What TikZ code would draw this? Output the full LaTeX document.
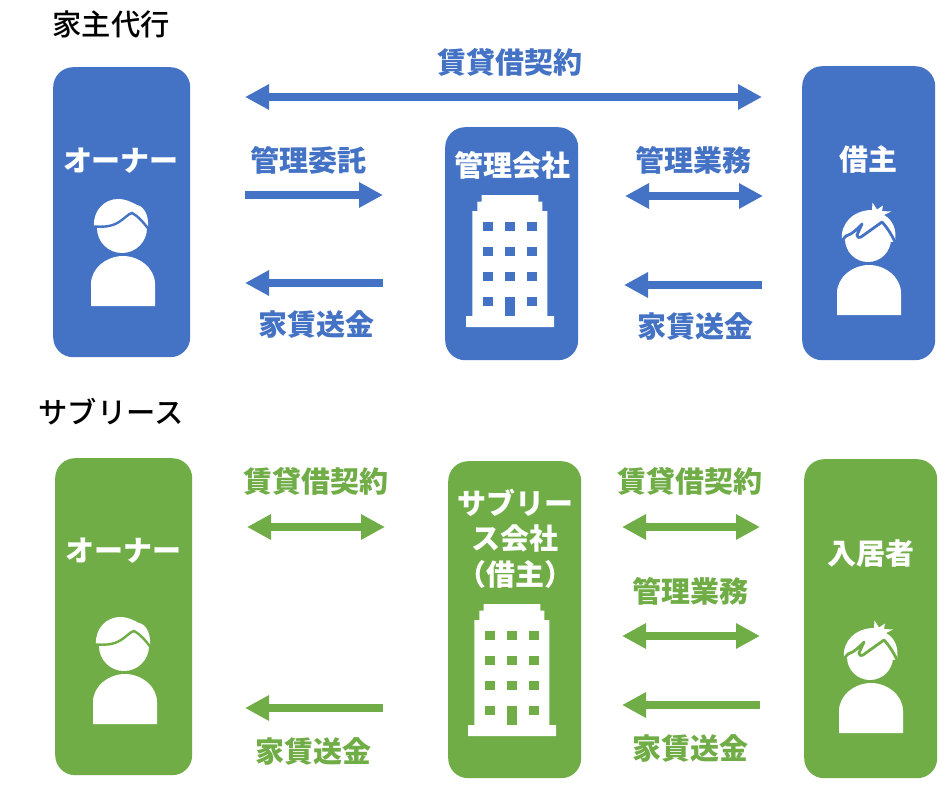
\documentclass[tikz,border=0pt]{standalone}
\usepackage{fontspec}
\usetikzlibrary{arrows.meta}
\setmainfont{Noto Sans CJK JP}
\newfontfamily\headfont{Noto Sans CJK JP Medium}
\definecolor{bl}{HTML}{4472C4}
\definecolor{gr}{HTML}{70AD47}
\tikzset{
  panel/.style={fill=#1,rounded corners=20pt,inner sep=0pt,anchor=north west},
  lab/.style={text=#1,font=\fontsize{29pt}{34pt}\selectfont\bfseries,inner sep=0pt,align=center,yshift=-0.7pt},
  paneltext/.style={text=white,font=\fontsize{29pt}{35.5pt}\selectfont\bfseries,inner sep=0pt,align=center,yshift=-0.7pt},
  heading/.style={text=black,font=\fontsize{29.3pt}{30pt}\selectfont\headfont,inner sep=0pt},
  conn/.style={draw=#1,line width=8pt},
  twoway/.style={conn=#1,{Triangle[length=24pt,width=24pt]}-{Triangle[length=24pt,width=24pt]}},
  oneway/.style={conn=#1,-{Triangle[length=24pt,width=24pt]}},
  pics/ownericon/.style={code={
    \fill[white] (-32,0) -- (-32,-22) .. controls (-32,-38) and (-16,-50) .. (0,-50)
       .. controls (16,-50) and (32,-38) .. (32,-22) -- (32,0) -- cycle;
    \fill[white] (-1,-78) circle[radius=25];
    \fill[white] (-29,-80) .. controls (-30,-96) and (-18,-107) .. (-5,-107)
       .. controls (3,-107) and (8,-104) .. (14,-101)
       .. controls (20,-100) and (26,-92) .. (25,-79) -- cycle;
    \draw[#1,line width=2.4pt] (-29.5,-79.5) .. controls (-20,-79) and (-12,-79) .. (-4,-84)
       .. controls (1,-87) and (5,-92) .. (9,-93)
       .. controls (15,-90) and (20,-84) .. (25.5,-77);
  }},
  pics/tenanticon/.style={code={
    \fill[white] (-32,0) -- (-32,-22) .. controls (-32,-38) and (-16,-50) .. (0,-50)
       .. controls (16,-50) and (32,-38) .. (32,-22) -- (32,0) -- cycle;
    \fill[white] (-1,-76) circle[radius=23];
    \fill[white] (-27,-75) .. controls (-29,-92) and (-15,-105) .. (3,-105)
       -- (3.5,-112.5) -- (8,-105.5) -- (14,-109.5) -- (13,-104) -- (22,-103.5) -- (15,-100)
       .. controls (24,-95) and (28,-85) .. (26,-73) -- cycle;
    \draw[#1,line width=2.8pt,line join=round] (-27,-74.5) -- (-23,-79) .. controls (-16,-81) and (-11,-87) .. (-7,-91)
       -- (-12,-80) .. controls (-11,-77) and (-10,-77) .. (-8,-78) -- (13,-93) .. controls (16,-90) and (22,-82) .. (26,-73);
  }},
  pics/buildingicon/.style={code={
    \fill[white] (-44,0) -- (-44,-11) -- (-37.7,-11) -- (-37.7,-116) -- (-32.7,-116) -- (-32.7,-125.3)
       -- (-28.3,-125.3) -- (-28.3,-132) -- (28.3,-132) -- (28.3,-125.3) -- (32.3,-125.3)
       -- (32.3,-116) -- (37.3,-116) -- (37.3,-11) -- (44,-11) -- (44,0) -- cycle;
    \foreach \yy in {-105,-80,-55,-30} \foreach \xx in {-26.7,-4.7,17.3}
      \fill[#1] (\xx,\yy) rectangle ++(9.4,9.4);
    \fill[#1] (-4.7,-30) rectangle (4.7,-11.3);
  }}
}
\begin{document}
\begin{tikzpicture}[x=1pt,y=-1pt]
\useasboundingbox (0,0) rectangle (946,787);
\fill[white] (0,0) rectangle (946,787);

% headings
\node[heading] (t1) at (111,24) {家主代行};
\node[heading] (t2) at (111,412) {サブリース};

% blue panels
\node[panel=bl,minimum width=137pt,minimum height=290pt] (ownerA) at (53,67) {};
\node[panel=bl,minimum width=133pt,minimum height=233pt] (mgmt) at (445,127) {};
\node[panel=bl,minimum width=133pt,minimum height=294pt] (tenantA) at (802,66) {};
\node[paneltext] (ownerAt) at (121,160) {オーナー};
\node[paneltext] (mgmtt) at (512,165) {管理会社};
\node[paneltext] (tenantAt) at (868,159) {借主};
\pic at (123,306) {ownericon=bl};
\pic at (510,327) {buildingicon=bl};
\pic at (869,315) {tenanticon=bl};

% green panels
\node[panel=gr,minimum width=137pt,minimum height=317pt] (ownerB) at (55,458) {};
\node[panel=gr,minimum width=133pt,minimum height=317pt] (sub) at (448,461) {};
\node[panel=gr,minimum width=133pt,minimum height=319pt] (tenantB) at (804,459) {};
\node[paneltext] (ownerBt) at (123,550) {オーナー};
\node[paneltext] (subt) at (515,538) {サブリー\\ス会社\\（借主）};
\node[paneltext] (tenantBt) at (871,553) {入居者};
\pic at (125,724) {ownericon=gr};
\pic at (512,736) {buildingicon=gr};
\pic at (871,733) {tenanticon=gr};

% blue labels
\node[lab=bl] (l1) at (510,62) {賃貸借契約};
\node[lab=bl] (l2) at (308,160) {管理委託};
\node[lab=bl] (l3) at (316,324) {家賃送金};
\node[lab=bl] (l4) at (693,160) {管理業務};
\node[lab=bl] (l5) at (695,326) {家賃送金};

% green labels
\node[lab=gr] (g1) at (316,481) {賃貸借契約};
\node[lab=gr] (g2) at (690,481) {賃貸借契約};
\node[lab=gr] (g3) at (690,591) {管理業務};
\node[lab=gr] (g4) at (313,751) {家賃送金};
\node[lab=gr] (g5) at (690,748) {家賃送金};

% connector ends
\coordinate (a1) at (245,97);  \coordinate (b1) at (762,97);
\coordinate (a2) at (245,195); \coordinate (b2) at (383,195);
\coordinate (a3) at (245,283); \coordinate (b3) at (383,283);
\coordinate (a4) at (625,196); \coordinate (b4) at (763,196);
\coordinate (a5) at (624,285); \coordinate (b5) at (762,285);
\coordinate (c1) at (247,527); \coordinate (d1) at (385,527);
\coordinate (c2) at (245,708); \coordinate (d2) at (383,708);
\coordinate (c3) at (622,527); \coordinate (d3) at (760,527);
\coordinate (c4) at (622,636); \coordinate (d4) at (760,636);
\coordinate (c5) at (622,705); \coordinate (d5) at (760,705);

\draw[twoway=bl] (a1) -- (b1);
\draw[oneway=bl] (a2) -- (b2);
\draw[oneway=bl] (b3) -- (a3);
\draw[twoway=bl] (a4) -- (b4);
\draw[oneway=bl] (b5) -- (a5);
\draw[twoway=gr] (c1) -- (d1);
\draw[oneway=gr] (d2) -- (c2);
\draw[twoway=gr] (c3) -- (d3);
\draw[twoway=gr] (c4) -- (d4);
\draw[oneway=gr] (d5) -- (c5);
\end{tikzpicture}
\end{document}
